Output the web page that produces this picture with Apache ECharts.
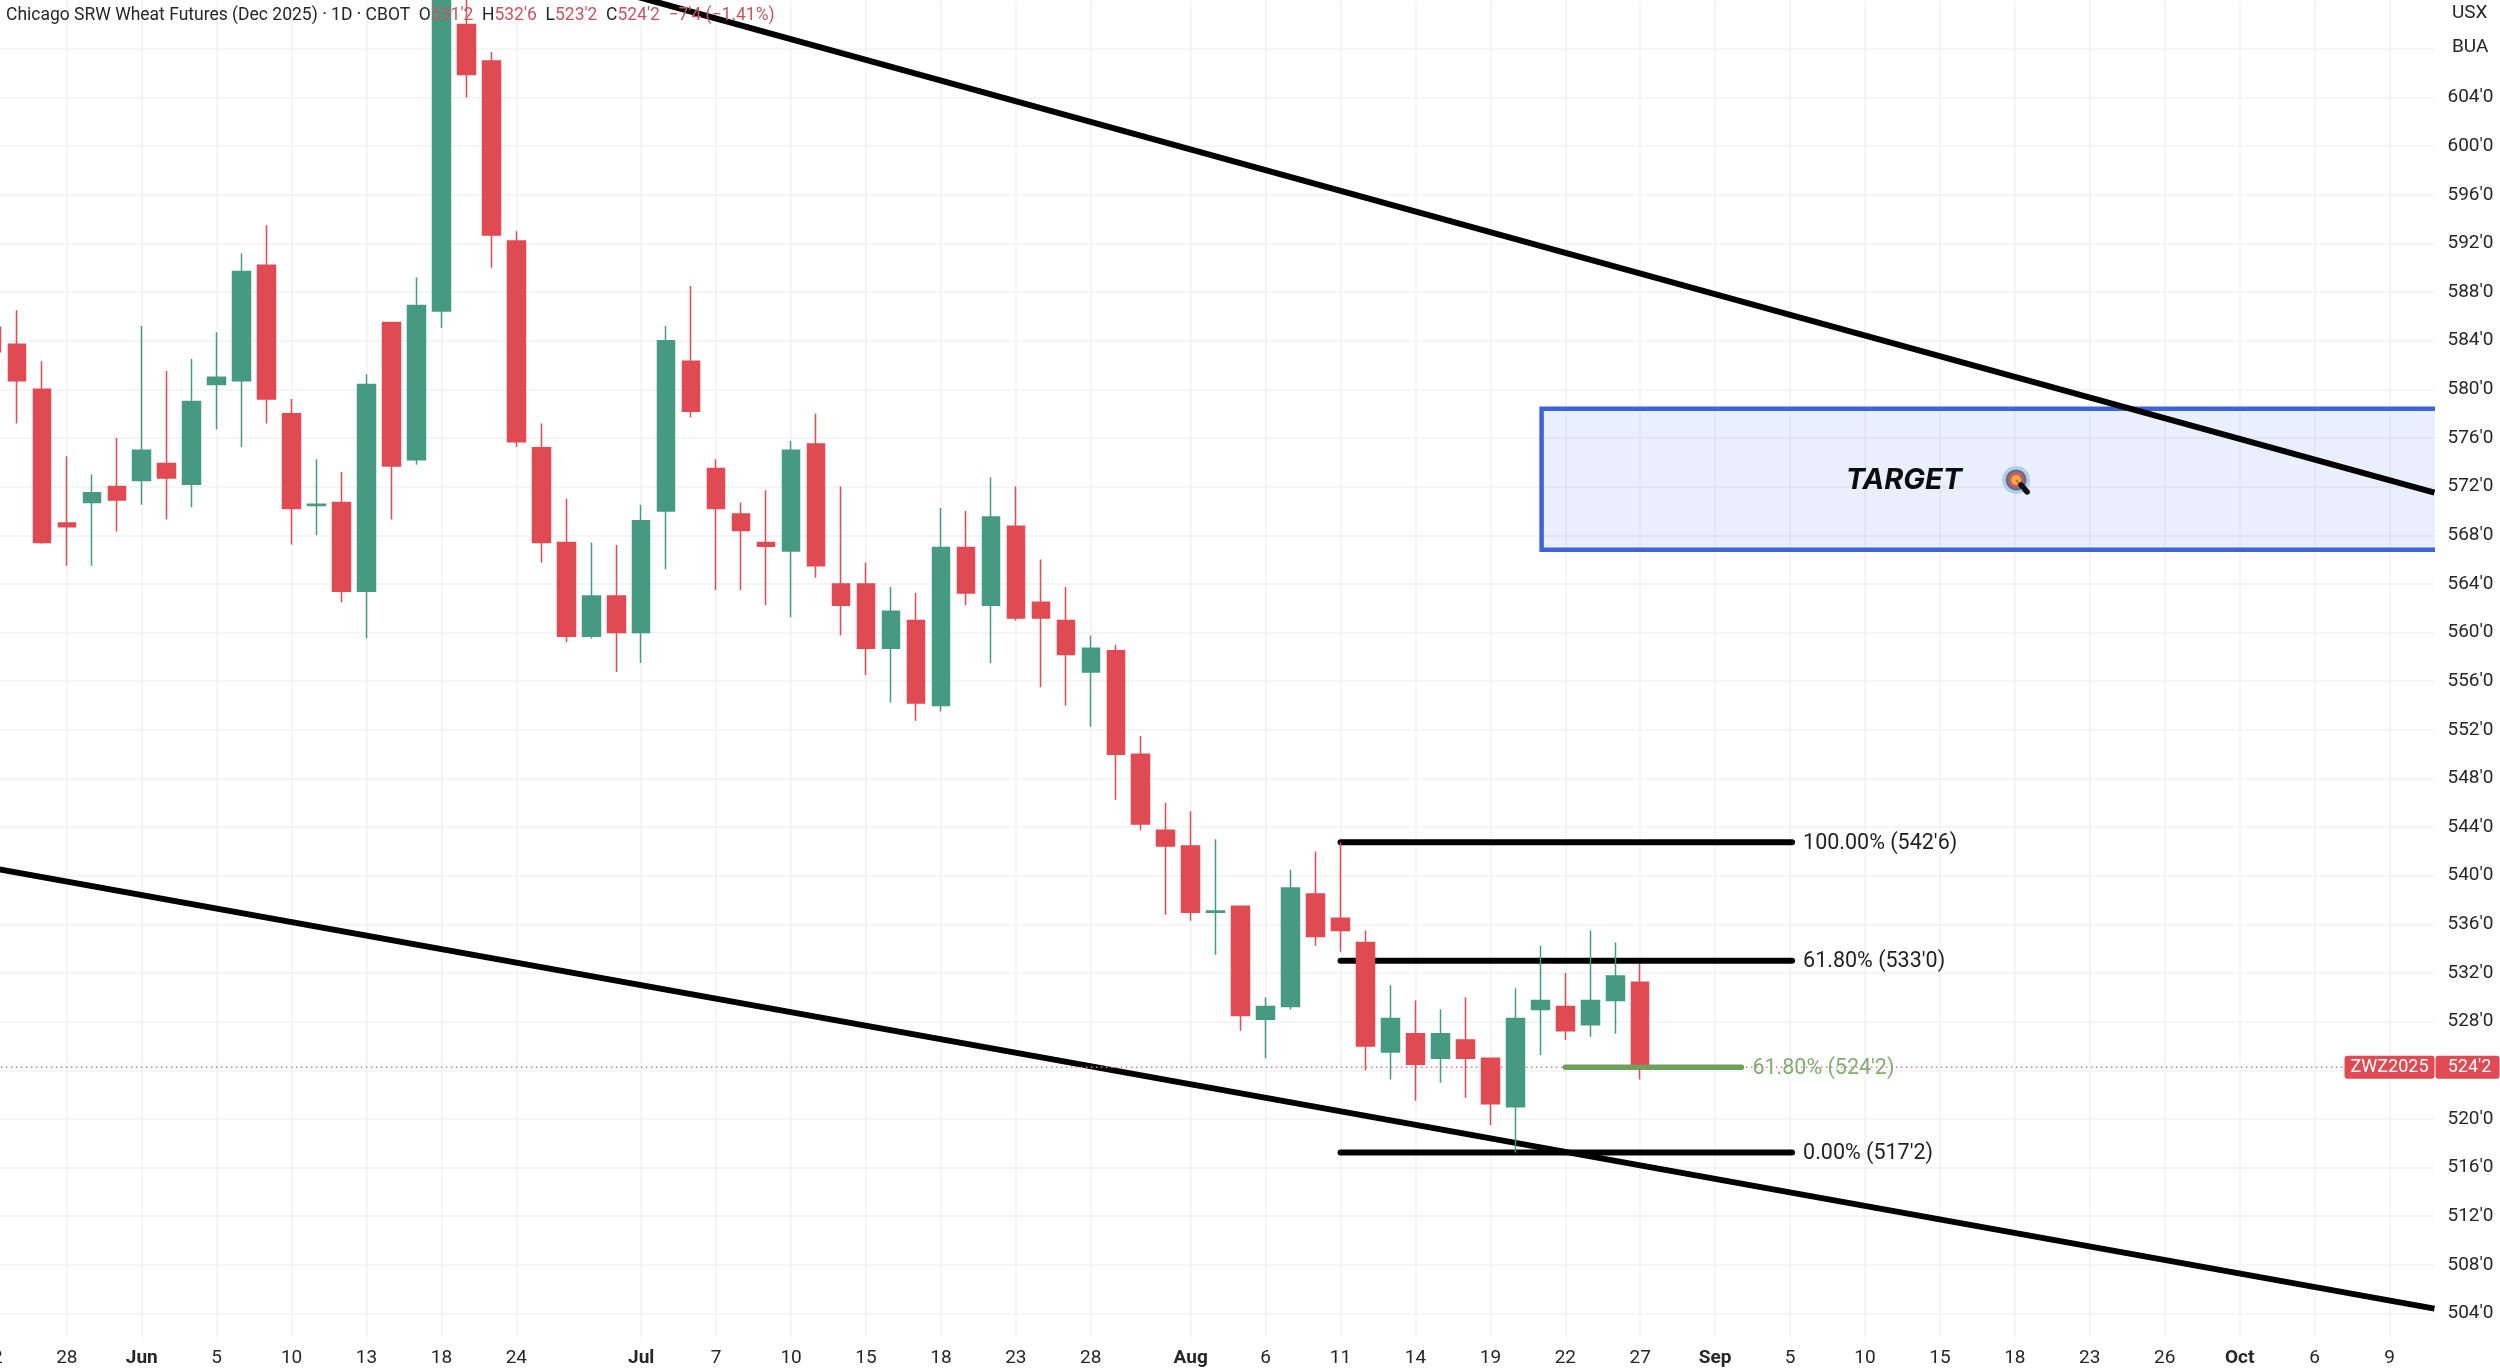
<!DOCTYPE html>
<html><head><meta charset="utf-8">
<style>html,body{margin:0;padding:0;background:#fff}#c{width:2500px;height:1370px}</style>
<script src="https://cdn.jsdelivr.net/npm/echarts@6/dist/echarts.min.js"></script>
</head><body><div id="c"></div>
<script>
var firstBar = -3;
var opens  = [585.1,583.7,580,569,570.7,572,572.5,573.9,572.2,580.4,580.7,590.2,578,570.45,570.7,563.4,585.5,574.2,586.45,610,607,592.2,575.2,567.4,559.7,563,560,570,582.3,573.5,569.75,567.4,566.7,575.5,564,564,558.7,561,554,567,562.25,568.75,562.5,561,556.75,558.5,550,543.75,542.45,537,537.5,528.2,529.25,538.5,536.5,534.5,525.5,527,525,526.5,525,521,529,529.25,527.75,529.75,531.25];
var closes = [583.1,580.7,567.4,568.7,571.5,570.9,575,572.7,579,581,589.7,579.2,570.2,570.55,563.4,580.4,573.7,586.9,616,605.9,592.7,575.7,567.4,559.7,563,560,569.2,584,578.2,570.2,568.4,567.1,575,565.5,562.25,558.7,561.75,554.2,567,563.25,569.5,561.2,561.2,558.2,558.7,550,544.25,542.45,537,537.1,528.5,529.25,539,535,535.5,526,528.25,524.5,527,525,521.25,528.25,529.75,527.25,529.75,531.75,524.25];
var lows   = [582,577.2,567.3,565.5,565.5,568.3,570.5,569.3,570.3,576.7,575.25,577.2,567.25,568,562.5,559.5,569.3,573.8,585.05,604,590,575.25,565.75,559.2,559.5,556.75,557.5,565.2,577.7,563.5,563.5,562.25,561.25,564.5,559.75,556.5,554.25,552.75,553.5,562.25,557.5,561,555.5,554,552.25,546.25,543.75,536.8,536.3,533.5,527.25,525,529,534.25,533.75,524,523.25,521.5,523,521.75,519.5,517.25,525.25,526.5,526.75,527,523.25];
var highs  = [586,586.5,582.3,574.5,573,576,585.2,581.5,582.5,584.7,591.2,593.5,579.2,574.25,573.2,581.25,585.5,589.2,618,613,607.75,593,577.2,571,567.4,567.2,570.5,585.2,588.5,574.25,570.7,571.7,575.75,578,572,565.75,563.75,563.25,570.25,570,572.75,572,566,563.75,559.75,559,551.5,546,545.3,543,537.5,530,540.5,542,542.75,535.5,531,529.75,529,530,525,530.75,534.25,532,535.5,534.5,532.75];

var priceTicks = [504,508,512,516,520,524,528,532,536,540,544,548,552,556,560,564,568,572,576,580,584,588,592,596,600,604,608];
var priceLabels = [504,508,512,516,520,528,532,536,540,544,548,552,556,560,564,568,572,576,580,584,588,592,596,600,604];
var timePositions = [-3,0,3,6,9,12,15,18,23,26,29,32,35,38,41,45,48,51,54,57,60,63,66,69,72,75,78,81,84,87,90,93];
var timeLabels = ['22','28','Jun','5','10','13','18','24','Jul','7','10','15','18','23','28','Aug','6','11','14','19','22','27','Sep','5','10','15','18','23','26','Oct','6','9'];

var upperTrend = [[21.4,613.1],[94.8,571.5]];
var lowerTrend = [[-3.84,540.95],[94.8,504.4]];
var fibLevels = [542.75,533,517.25];
var fibText = ["100.00% (542'6)","61.80% (533'0)","0.00% (517'2)"];
var fibStart = 51, fibEnd = 69.08;
var retrace = {start:60,end:67.05,price:524.25,text:"61.80% (524'2)"};
var lastPrice = 524.25, lastLine = [-3.84,91.2];
var targetBox = {from:59.05,to:100,top:578.4,bottom:566.8};
var targetText = {x:73.56,price:572.5,text:'TARGET'};
var targetIcon = {x:78.05,price:572.55};

var red='#e04a52', green='#479a82', uiFont='Roboto, sans-serif', tgtFont='Inter, Roboto, sans-serif';
var bars = opens.map(function(o,i){return [firstBar+i,o,closes[i],lows[i],highs[i]];});
function lineSeries(data,color,width,z,extra){
  return Object.assign({type:'line',data:data,symbol:'none',silent:true,clip:true,z:z,animation:false,
    lineStyle:{color:color,width:width,cap:'round'}},extra||{});
}
var series=[
 {type:'custom',z:1,clip:true,silent:true,animation:false,data:[[targetBox.from,targetBox.top,targetBox.to,targetBox.bottom]],
  encode:{x:[0,2],y:[1,3]},
  renderItem:function(p,api){
    var a=api.coord([api.value(0),api.value(1)]),b=api.coord([api.value(2),api.value(3)]);
    return {type:'rect',shape:{x:a[0],y:a[1],width:b[0]-a[0],height:b[1]-a[1]},
      style:{fill:'rgba(62,110,225,0.115)',stroke:'#3f63d8',lineWidth:4.5}};
  }},
 lineSeries(upperTrend,'#000',6,2,{lineStyle:{color:'#000',width:6,cap:'butt'}}),
 lineSeries(lowerTrend,'#000',6,2,{lineStyle:{color:'#000',width:6,cap:'butt'}}),
 lineSeries([[lastLine[0],lastPrice],[lastLine[1],lastPrice]],'#dd6a70',1.5,2,{clip:false,lineStyle:{color:'#dd7a80',width:1.5,type:[1.5,3.5]}}),
 lineSeries([[fibStart,fibLevels[0]],[fibEnd,fibLevels[0]]],'#000',6,3),
 lineSeries([[fibStart,fibLevels[1]],[fibEnd,fibLevels[1]]],'#000',6,3),
 lineSeries([[fibStart,fibLevels[2]],[fibEnd,fibLevels[2]]],'#000',6,3),
 {type:'candlestick',z:5,silent:true,animation:false,barWidth:18,clip:true,data:bars,
  itemStyle:{color:green,color0:red,borderColor:green,borderColor0:red,borderWidth:1.5}},
 lineSeries([[retrace.start,retrace.price],[retrace.end,retrace.price]],'#6f9f5b',5.5,6),
 {type:'custom',z:7,silent:true,animation:false,data:fibLevels.map(function(v){return [fibEnd,v];}),
  encode:{x:0,y:1},
  renderItem:function(p,api){
    var c=api.coord([api.value(0),api.value(1)]);
    return {type:'text',x:c[0]+11,y:c[1]+1,style:{text:fibText[p.dataIndex],fill:'#1f1f24',font:'21.5px '+uiFont,align:'left',verticalAlign:'middle'}};
  }},
 {type:'custom',z:7,silent:true,animation:false,data:[[retrace.end,retrace.price]],encode:{x:0,y:1},
  renderItem:function(p,api){
    var c=api.coord([api.value(0),api.value(1)]);
    return {type:'text',x:c[0]+11,y:c[1]+1,style:{text:retrace.text,fill:'#84ac72',font:'21.5px '+uiFont,align:'left',verticalAlign:'middle'}};
  }},
 {type:'custom',z:7,silent:true,animation:false,data:[[targetText.x,targetText.price]],encode:{x:0,y:1},
  renderItem:function(p,api){
    var c=api.coord([api.value(0),api.value(1)]);
    return {type:'text',x:c[0],y:c[1],style:{text:targetText.text,fill:'#0b0b10',font:'italic bold 29px '+tgtFont,align:'center',verticalAlign:'middle'}};
  }},
 {type:'custom',z:7,silent:true,animation:false,data:[[targetIcon.x,targetIcon.price]],encode:{x:0,y:1},
  renderItem:function(p,api){
    var c=api.coord([api.value(0),api.value(1)]);
    function ring(r,col){return {type:'circle',shape:{cx:c[0],cy:c[1],r:r},style:{fill:col}};}
    return {type:'group',children:[ring(14,'#b5cfdf'),ring(10.5,'#5b6f9c'),ring(8,'#cf5a52'),ring(5,'#eeaa45'),
      {type:'line',shape:{x1:c[0],y1:c[1],x2:c[0]+6,y2:c[1]+7},style:{stroke:'#a8663a',lineWidth:1.5}},
      {type:'line',shape:{x1:c[0]+5,y1:c[1]+5,x2:c[0]+11,y2:c[1]+12},style:{stroke:'#111',lineWidth:5.5,lineCap:'round'}}]};
  }},
 {type:'custom',z:8,silent:true,animation:false,data:[[lastLine[1],lastPrice]],encode:{x:0,y:1},
  renderItem:function(p,api){
    var c=api.coord([api.value(0),api.value(1)]);
    return {type:'group',children:[
      {type:'rect',shape:{x:c[0],y:c[1]-11.5,width:90,height:23,r:3},style:{fill:red}},
      {type:'rect',shape:{x:c[0]+91,y:c[1]-11.5,width:64,height:23,r:3},style:{fill:red}},
      {type:'text',x:c[0]+45,y:c[1]+0.5,style:{text:'ZWZ2025',fill:'#fff',font:'18px '+uiFont,align:'center',verticalAlign:'middle'}},
      {type:'text',x:c[0]+125,y:c[1]+0.5,style:{text:"524'2",fill:'#fff',font:'18px '+uiFont,align:'center',verticalAlign:'middle'}}]};
  }}
];
var option={
 animation:false,backgroundColor:'#fff',
 title:{left:1,top:2,textStyle:{fontWeight:'normal',rich:{
    k:{fontSize:17.5,fontWeight:'normal',fontFamily:uiFont,color:'#26262b'},
    v:{fontSize:17.5,fontWeight:'normal',fontFamily:uiFont,color:'#c9565d'}}},
    text:"{k|Chicago SRW Wheat Futures (Dec 2025) · 1D · CBOT  O}{v|531'2}{k|  H}{v|532'6}{k|  L}{v|523'2}{k|  C}{v|524'2  −7'4 (−1.41%)}",z:20},
 grid:{left:-29,top:1.5,width:2463.5,height:1336,containLabel:false,outerBoundsMode:'none'},
 xAxis:{type:'value',min:-3.8366,max:94.802,
   axisLine:{show:false},axisTick:{show:false,customValues:timePositions},
   splitLine:{show:true,lineStyle:{color:'#f1f2f5',width:1.5}},
   axisLabel:{customValues:timePositions,margin:11,fontSize:19,fontFamily:uiFont,color:'#26262b',
     formatter:function(v){var s=timeLabels[timePositions.indexOf(v)];return /[A-Za-z]/.test(s)?'{b|'+s+'}':s;},
     rich:{b:{fontSize:19,fontWeight:'bold',fontFamily:uiFont,color:'#26262b'}}}},
 yAxis:{type:'value',position:'right',min:502.026,max:611.895,
   axisLine:{show:false},axisTick:{show:false,customValues:priceTicks},
   splitLine:{show:true,lineStyle:{color:'#f1f2f5',width:1.5}},
   axisLabel:{customValues:priceLabels,margin:13,fontSize:19,fontFamily:uiFont,color:'#26262b',
     formatter:function(v){return v+"'0";}}},
 graphic:[
   {type:'text',left:2452,top:4,style:{text:'USX',fill:'#26262b',font:'19px '+uiFont}},
   {type:'text',left:2452,top:38,style:{text:'BUA',fill:'#26262b',font:'19px '+uiFont}}],
 series:series
};
var chart=echarts.init(document.getElementById('c'),null,{renderer:'canvas',width:2500,height:1370});
chart.setOption(option);
</script></body></html>
